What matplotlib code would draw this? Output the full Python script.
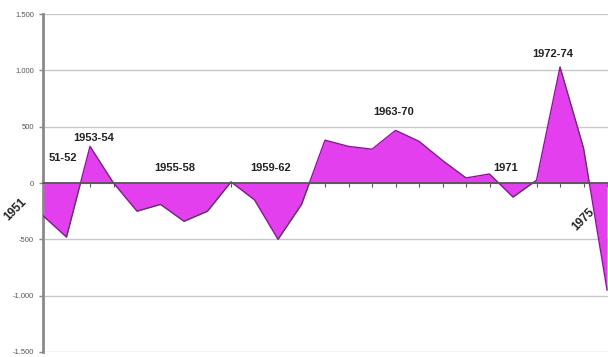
import matplotlib
matplotlib.use("Agg")
import matplotlib.pyplot as plt
from matplotlib.ticker import FuncFormatter

years = list(range(1951, 1976))
balance = [
    -290, -480, 325, 0, -250, -190, -340, -250, 10, -150,
    -500, -190, 380, 325, 300, 467, 370, 200, 45, 80,
    -125, 25, 1030, 310, -950,
]

period_labels = ["51-52", "1953-54", "1955-58", "1959-62", "1963-70", "1971", "1972-74"]
period_pos = [(0.85, 220), (2.17, 396), (5.6, 132), (9.7, 132), (14.9, 633), (19.7, 132), (21.7, 1143)]

plt.rcParams["font.family"] = ["Liberation Sans", "DejaVu Sans"]

fig = plt.figure(figsize=(6.08, 3.57), dpi=100)
ax = fig.add_axes([43 / 608, 5 / 357, 1 - 43 / 608, 338 / 357])

x = list(range(len(years)))
ax.fill_between(x, balance, 0, color="#E33FEE", linewidth=0, zorder=2)
ax.plot(x, balance, color="#7A1F86", linewidth=1.0, zorder=3)

ax.set_xlim(0, 24.04)
ax.set_ylim(-1500, 1500)
ax.set_yticks(range(-1500, 1501, 500))
ax.yaxis.set_major_formatter(FuncFormatter(lambda v, _: f"{int(v):,}".replace(",", ".")))
ax.tick_params(axis="y", labelsize=5.5, labelcolor="#555555", length=3, color="#888888", width=1)
ax.grid(axis="y", color="#C8C8C8", linewidth=1.0, zorder=0)

# category axis sits on the zero line
ax.spines["bottom"].set_position(("data", 0))
ax.spines["bottom"].set_color("#555555")
ax.spines["bottom"].set_linewidth(1.3)
ax.spines["bottom"].set_zorder(4)
ax.set_xticks(x)
ax.tick_params(axis="x", length=3, color="#555555", labelbottom=False)
ax.spines["left"].set_color("#8A8A8A")
ax.spines["left"].set_linewidth(2)
ax.spines["top"].set_visible(False)
ax.spines["right"].set_visible(False)

for label, (px, py) in zip(period_labels, period_pos):
    ax.text(px, py, label, ha="center", va="center", fontsize=8, fontweight="bold", color="#222222", zorder=5)

ax.text(-1.19, -237, str(years[0]), rotation=45, ha="center", va="center",
        fontsize=8.5, fontweight="bold", color="#222222", clip_on=False)
ax.text(23.0, -325, str(years[-1]), rotation=45, ha="center", va="center",
        fontsize=8.5, fontweight="bold", color="#222222", zorder=5)

fig.savefig("out.png", dpi=100)
